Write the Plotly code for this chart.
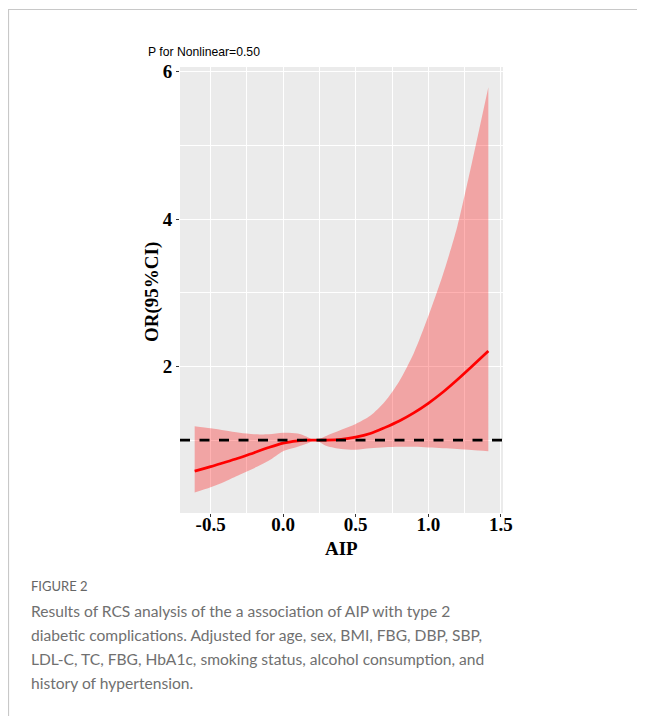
import plotly.graph_objects as go

# ---- data ----
aip = [-0.61, -0.5, -0.4, -0.3, -0.2, -0.1, 0.0, 0.1, 0.16, 0.22, 0.3, 0.4, 0.5,
       0.6, 0.7, 0.8, 0.9, 1.0, 1.1, 1.2, 1.3, 1.414]
or_fit = [0.58, 0.64, 0.70, 0.76, 0.83, 0.90, 0.96, 0.99, 1.0, 1.0, 1.0, 1.01, 1.04,
          1.09, 1.17, 1.26, 1.37, 1.50, 1.65, 1.82, 2.00, 2.21]
or_upper = [1.19, 1.16, 1.13, 1.10, 1.08, 1.08, 1.10, 1.09, 1.05, 1.0, 1.06, 1.14, 1.22,
            1.33, 1.52, 1.80, 2.18, 2.68, 3.24, 3.90, 4.76, 5.79]
or_lower = [0.29, 0.36, 0.44, 0.53, 0.62, 0.72, 0.85, 0.91, 0.95, 1.0, 0.92, 0.88, 0.87,
            0.89, 0.905, 0.91, 0.91, 0.90, 0.89, 0.88, 0.865, 0.85]

x_ticks = [-0.5, 0.0, 0.5, 1.0, 1.5]
x_ticklabels = ["-0.5", "0.0", "0.5", "1.0", "1.5"]
x_minor = [-0.25, 0.25, 0.75, 1.25]
y_ticks = [2, 4, 6]
y_ticklabels = ["2", "4", "6"]
y_minor = [1, 3, 5]
ref_line = 1

title_text = "P for Nonlinear=0.50"
x_title = "AIP"
y_title = "OR(95%CI)"
fig_label = "FIGURE 2"
caption_lines = [
    "Results of RCS analysis of the a association of AIP with type 2",
    "diabetic complications. Adjusted for age, sex, BMI, FBG, DBP, SBP,",
    "LDL-C, TC, FBG, HbA1c, smoking status, alcohol consumption, and",
    "history of hypertension.",
]

# ---- figure ----
W, H = 645, 716
OFF = 8  # page body margin
PX0, PX1, PY0, PY1 = 180, 503, 67, 513  # panel edges in page pixels
L, T = PX0 - OFF, PY0 - OFF
pw, ph = PX1 - PX0, PY1 - PY0
R, B = W - L - pw, H - T - ph

def px_x(p):
    return (p - PX0) / pw

def px_y(p):
    return (PY1 - p) / ph

fig = go.Figure()
fig.add_trace(go.Scatter(x=aip, y=or_lower, mode="lines",
                         line=dict(width=0, shape="spline", smoothing=0.8),
                         hoverinfo="skip", showlegend=False))
fig.add_trace(go.Scatter(x=aip, y=or_upper, mode="lines", fill="tonexty",
                         fillcolor="rgba(255,0,0,0.3)",
                         line=dict(width=0, shape="spline", smoothing=0.8),
                         hoverinfo="skip", showlegend=False))
fig.add_trace(go.Scatter(x=aip, y=or_fit, mode="lines",
                         line=dict(color="#FF0000", width=2.7, shape="spline", smoothing=0.8),
                         showlegend=False))

serif_bold = dict(family="Liberation Serif", size=19, color="black", weight="bold")

fig.update_xaxes(range=[-0.711, 1.515], tickmode="array", tickvals=x_ticks,
                 ticktext=x_ticklabels, ticks="outside", ticklen=3, tickwidth=1,
                 tickcolor="#333333", tickfont=serif_bold, ticklabelstandoff=-9,
                 showgrid=True, gridcolor="white", gridwidth=1.1, zeroline=False,
                 showline=False,
                 minor=dict(tickmode="array", tickvals=x_minor, showgrid=True,
                            gridcolor="white", gridwidth=0.55, ticks=""))
fig.update_yaxes(range=[0.011, 6.065], tickmode="array", tickvals=y_ticks,
                 ticktext=y_ticklabels, ticks="outside", ticklen=3, tickwidth=1,
                 tickcolor="#333333", tickfont=serif_bold, showgrid=True,
                 gridcolor="white", gridwidth=1.1, zeroline=False, showline=False,
                 minor=dict(tickmode="array", tickvals=y_minor, showgrid=True,
                            gridcolor="white", gridwidth=0.55, ticks=""))

annotations = [
    dict(text=title_text, x=px_x(146), y=px_y(52), xanchor="left", yanchor="middle",
         font=dict(family="Liberation Sans", size=12.2, color="black")),
    dict(text=x_title, x=0.5, y=px_y(548), xanchor="center", yanchor="middle",
         font=serif_bold),
    dict(text=y_title, x=px_x(152), y=px_y(292), xanchor="center", yanchor="middle",
         textangle=-90, font=serif_bold),
    dict(text=fig_label, x=px_x(29), y=px_y(586), xanchor="left", yanchor="middle",
         font=dict(family="Lato", size=13, color="#666666")),
]
for i, line in enumerate(caption_lines):
    annotations.append(dict(text=line, x=px_x(29), y=px_y(611 + 24 * i), xanchor="left",
                            yanchor="middle",
                            font=dict(family="Lato", size=15.6, color="#707070")))
for a in annotations:
    a.update(xref="paper", yref="paper", showarrow=False)

# outer frame of the figure box (top and left edges)
frame = dict(type="path", xref="paper", yref="paper",
             path="M {:.5f},{:.5f} L {:.5f},{:.5f} L {:.5f},{:.5f}".format(
                 px_x(8.5), px_y(760), px_x(8.5), px_y(9.5), px_x(660), px_y(9.5)),
             line=dict(color="#c8c8c8", width=1.2))

fig.update_layout(width=W, height=H, margin=dict(l=L, r=R, t=T, b=B, pad=0),
                  paper_bgcolor="white", plot_bgcolor="#EBEBEB",
                  annotations=annotations, showlegend=False)
fig.add_shape(**frame)
fig.add_hline(y=ref_line, line=dict(color="black", width=2.6, dash="10px,9.5px"),
              layer="above")

fig.write_html("out.html")
